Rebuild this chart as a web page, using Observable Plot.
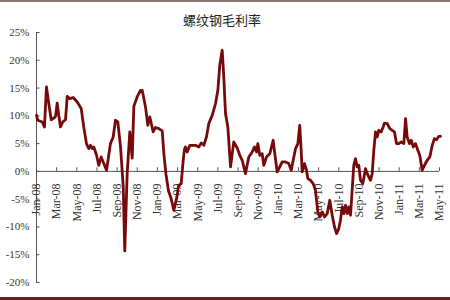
<!DOCTYPE html>
<html><head><meta charset="utf-8">
<script src="https://cdn.jsdelivr.net/npm/d3@7"></script>
<script src="https://cdn.jsdelivr.net/npm/@observablehq/plot@0.6"></script>
<style>
html,body{margin:0;padding:0;background:#fff;}
#wrap{position:relative;width:450px;height:300px;overflow:hidden;background:#fff;}
#title{position:absolute;left:0;width:444px;top:11px;text-align:center;font-family:"Noto Sans CJK SC";font-size:13px;color:#222;line-height:18px;}
#topline{position:absolute;left:0;top:0;width:450px;height:2px;background:#8c7474;}
#bottomband{position:absolute;left:0;top:297px;width:450px;height:3px;background:#6a1c1c;}
#chart{position:absolute;left:0;top:0;}
</style></head>
<body>
<div id="wrap">
  <div id="chart"></div>
  <div id="title">螺纹钢毛利率</div>
  <div id="topline"></div>
  <div id="bottomband"></div>
</div>
<script>
// position in months since Jan-08
const months = [0,0.13,0.57,0.79,0.99,1.22,1.46,1.79,1.89,2.05,2.21,2.38,2.61,2.88,3.05,3.31,3.64,4.04,4.44,4.69,4.96,5.19,5.36,5.53,5.69,5.96,6.18,6.42,6.62,6.95,7.34,7.61,7.84,8.07,8.34,8.61,8.76,9.00,9.26,9.50,9.66,9.99,10.32,10.49,10.82,11.05,11.25,11.58,11.81,12.14,12.48,12.65,12.85,13.10,13.35,13.63,13.90,14.12,14.36,14.56,14.69,14.79,14.96,15.22,15.78,16.11,16.35,16.61,16.87,17.10,17.44,17.77,18.00,18.19,18.43,18.59,18.76,18.99,19.26,19.58,19.92,20.18,20.42,20.74,21.07,21.41,21.64,21.84,21.97,22.16,22.40,22.56,22.83,23.16,23.49,23.65,23.89,24.15,24.39,24.71,25.04,25.28,25.48,25.71,25.94,26.13,26.27,26.37,26.60,26.80,26.93,27.20,27.46,27.69,27.92,28.12,28.36,28.59,28.85,29.11,29.35,29.58,29.78,30.00,30.17,30.34,30.50,30.67,30.84,31.00,31.17,31.33,31.49,31.66,31.83,31.99,32.16,32.39,32.66,32.83,32.98,33.15,33.32,33.48,33.65,33.82,33.98,34.21,34.41,34.54,34.81,35.07,35.31,35.53,35.73,35.96,36.20,36.46,36.63,36.79,37.02,37.19,37.39,37.62,37.85,38.04,38.28,38.51,38.78,39.04,39.28,39.50,39.70,39.93,40.10];
// gross margin, %
const margins = [10.1,9.2,8.9,8.0,15.2,12.2,9.3,9.7,9.9,12.3,10.1,8.0,8.9,9.3,13.5,13.1,13.3,12.5,11.3,8.0,5.0,4.1,4.7,4.1,4.4,2.9,1.1,2.6,1.7,0.2,5.0,6.2,9.2,8.9,4.4,-2.8,-14.3,-0.4,7.1,2.4,11.7,13.4,14.6,14.6,11.6,8.3,9.8,7.1,7.9,7.7,7.3,3.0,-0.5,-3.5,-4.8,-7.0,-4.9,-2.5,-2.2,2.0,4.0,4.4,3.5,4.7,4.7,4.4,5.1,4.7,6.2,8.6,10.1,12.2,14.6,19.1,21.8,17.0,10.4,8.0,0.8,5.3,4.2,2.9,2.0,-0.4,2.6,3.5,4.4,3.5,5.0,2.9,3.2,1.1,2.6,3.2,5.6,3.2,-0.1,0.8,1.7,1.7,1.4,0.2,2.0,4.1,5.0,8.3,3.8,-0.1,1.4,0.2,-1.3,-1.6,-2.2,-3.4,-7.3,-8.2,-7.3,-8.2,-7.6,-5.2,-7.9,-10.0,-11.2,-10.3,-8.8,-6.4,-7.6,-6.1,-7.6,-6.4,-7.9,-3.4,1.1,2.3,0.8,1.1,-1.6,-2.2,0.5,-0.4,-1.0,-1.6,-0.4,3.8,7.1,6.2,7.4,7.1,8.0,8.7,8.6,7.7,7.4,7.1,5.0,5.0,5.3,5.0,9.5,6.2,5.0,5.6,4.4,5.0,3.8,2.9,0.2,1.1,2.0,2.6,4.7,5.9,5.7,6.3,6.3];
const xTickLabels = ["Jan-08","Mar-08","May-08","Jul-08","Sep-08","Nov-08","Jan-09","Mar-09","May-09","Jul-09","Sep-09","Nov-09","Jan-10","Mar-10","May-10","Jul-10","Sep-10","Nov-10","Jan-11","Mar-11","May-11"];
const yTicks = [-20,-15,-10,-5,0,5,10,15,20,25];

const data = months.map((m, i) => ({m, v: margins[i]}));
const xTicks = xTickLabels.map((d, i) => ({pos: i * 2, label: d}));
const axisColor = "#555";

const chart = Plot.plot({
  width: 450, height: 300,
  marginTop: 32, marginBottom: 18, marginLeft: 36, marginRight: 11,
  x: {type: "linear", domain: [0, 40], axis: null},
  y: {domain: [-20, 25], axis: null},
  style: {background: "transparent"},
  marks: [
    Plot.ruleX([0], {y1: -20, y2: 25, stroke: axisColor, strokeWidth: 1}),
    Plot.ruleY(yTicks, {x1: 0, x2: 0.35, stroke: axisColor}),
    Plot.ruleY([0], {x1: 0, x2: 40, stroke: axisColor}),
    Plot.ruleX(xTicks, {x: "pos", y1: 0, y2: 0.65, stroke: axisColor}),
    Plot.text(yTicks, {x: 0, y: d => d, text: d => d + "%", textAnchor: "end", dx: -7,
      fontFamily: "Liberation Serif", fontSize: 11, fill: "#333"}),
    Plot.text(xTicks, {x: "pos", y: 0, text: "label", rotate: -90, textAnchor: "end", dy: 12,
      fontFamily: "Liberation Serif", fontSize: 12, fill: "#333", ariaLabel: "x-labels"}),
    Plot.line(data, {x: "m", y: "v", stroke: "#760a0a", strokeWidth: 2.8, strokeLinejoin: "round", strokeLinecap: "round"})
  ]
});
document.getElementById("chart").appendChild(chart);
const g = chart.querySelector('g[aria-label="x-labels"]');
if (g) g.setAttribute("letter-spacing", "1.2");
</script>
</body></html>
